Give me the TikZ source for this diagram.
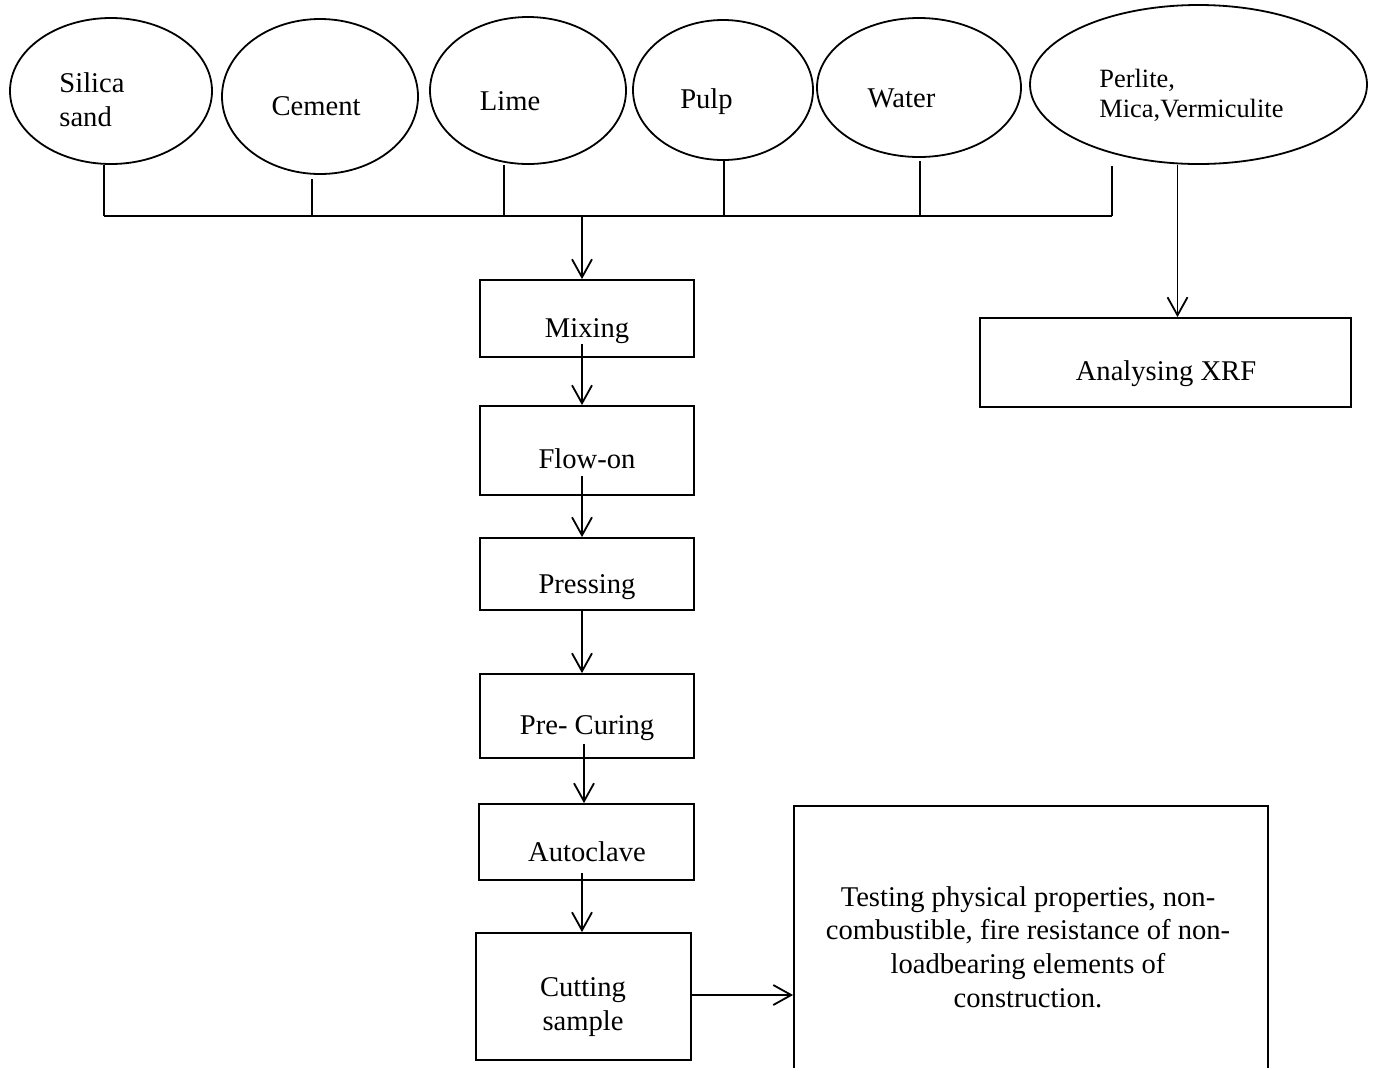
\documentclass[tikz,border=0pt]{standalone}
\usepackage{fontspec}
\setmainfont{Liberation Serif}
\usetikzlibrary{arrows.meta,calc,shapes.geometric}
\begin{document}
\begin{tikzpicture}[x=0.5pt,y=-0.5pt,
  every node/.style={font=\fontsize{14.3}{16.8}\selectfont},
  oval/.style={draw,ellipse,inner sep=0pt,line width=0.9pt},
  proc/.style={draw,rectangle,inner sep=0pt,line width=0.9pt},
  lbl/.style={inner sep=0pt},
  small/.style={font=\fontsize{13.2}{15}\selectfont},
  flow/.style={line width=0.9pt,-{Straight Barb[length=9pt,width=10pt,line width=0.9pt]}},
  wire/.style={line width=0.9pt}]
\useasboundingbox (0,0) rectangle (1375,1067);

% raw materials
\node[oval,minimum width=101pt,minimum height=73pt] (silica) at (111,91) {};
\node[oval,minimum width=98pt,minimum height=77.5pt] (cement) at (320,96.5) {};
\node[oval,minimum width=98pt,minimum height=73.5pt] (lime) at (528,90.5) {};
\node[oval,minimum width=90pt,minimum height=70pt] (pulp) at (723,90) {};
\node[oval,minimum width=102pt,minimum height=69.5pt] (water) at (919,87.5) {};
\node[oval,minimum width=168.5pt,minimum height=79.5pt] (perlite) at (1198.5,84.5) {};

\node[lbl,align=left,anchor=west] (tsilica) at (59,100) {Silica\\sand};
\node[lbl,anchor=base] (tcement) at (316,115) {Cement};
\node[lbl,anchor=base] (tlime) at (510,110) {Lime};
\node[lbl,anchor=base] (tpulp) at (706.5,108) {Pulp};
\node[lbl,anchor=base] (twater) at (901.5,107) {Water};
\node[lbl,small,align=left,anchor=west] (tperlite) at (1099,95) {Perlite,\\Mica,Vermiculite};

% process boxes
\node[proc,minimum width=107pt,minimum height=38.5pt] (mix) at (587,318.5) {};
\node[proc,minimum width=107pt,minimum height=44.5pt] (flow) at (587,450.5) {};
\node[proc,minimum width=107pt,minimum height=36pt] (press) at (587,574) {};
\node[proc,minimum width=107pt,minimum height=42pt] (precure) at (587,716) {};
\node[proc,minimum width=107.5pt,minimum height=38pt] (auto) at (586.5,842) {};
\node[proc,minimum width=107.5pt,minimum height=63.5pt] (cut) at (583.5,996.5) {};
\node[proc,minimum width=237pt,minimum height=142pt] (test) at (1031,948) {};
\node[proc,minimum width=185.5pt,minimum height=44.5pt] (xrf) at (1165.5,362.5) {};

\node[lbl,anchor=base] (tmix) at (587,337) {Mixing};
\node[lbl,anchor=base] (tflow) at (587,468) {Flow-on};
\node[lbl,anchor=base] (tpress) at (587,593) {Pressing};
\node[lbl,anchor=base] (tpre) at (587,734) {Pre- Curing};
\node[lbl,anchor=base] (tauto) at (587,861) {Autoclave};
\node[lbl,align=center] (tcut) at (583,1007) {Cutting\\sample};
\node[lbl,align=center] (ttest) at (1028,947) {Testing physical properties, non-\\combustible, fire resistance of non-\\loadbearing elements of\\construction.};
\node[lbl,anchor=base] (txrf) at (1166,380) {Analysing XRF};

% collecting bus
\coordinate (bus) at (582,216);
\coordinate (busL) at (104,216);
\coordinate (busR) at (1112,216);
\draw[wire] (busL) -- (busR);
\draw[wire] ($(silica.south)+(-7,0)$) -- (busL);
\coordinate (sC) at ($(cement.south)+(-8,4)$);
\draw[wire] (sC) -- (sC |- bus);
\coordinate (sL) at ($(lime.south)+(-24,0)$);
\draw[wire] (sL) -- (sL |- bus);
\coordinate (sPu) at ($(pulp.south)+(1,0)$);
\draw[wire] (sPu) -- (sPu |- bus);
\coordinate (sW) at ($(water.south)+(1,3.5)$);
\draw[wire] (sW) -- (sW |- bus);
\coordinate (sPe) at ($(perlite.south)+(-86.5,1)$);
\draw[wire] (sPe) -- (busR);

% flow arrows
\draw[flow] (bus) -- (bus |- mix.north);
\draw[flow] ($(mix.south)+(-5,-14)$) -- ($(flow.north)+(-5,0)$);
\draw[flow] ($(flow.south)+(-5,-20)$) -- ($(press.north)+(-5,0)$);
\draw[flow] ($(press.south)+(-5,0)$) -- ($(precure.north)+(-5,0)$);
\draw[flow] ($(precure.south)+(-3,-15)$) -- ($(auto.north)+(-2.5,0)$);
\draw[flow] ($(auto.south)+(-4.5,-8)$) -- ($(cut.north)+(-1.5,0)$);
\coordinate (cE) at ($(cut.east)+(0,-1.5)$);
\draw[flow] (cE) -- (cE -| test.west);
\coordinate (sX) at ($(perlite.south)+(-21,0)$);
\draw[flow] (sX) -- (sX |- xrf.north);
\end{tikzpicture}
\end{document}
